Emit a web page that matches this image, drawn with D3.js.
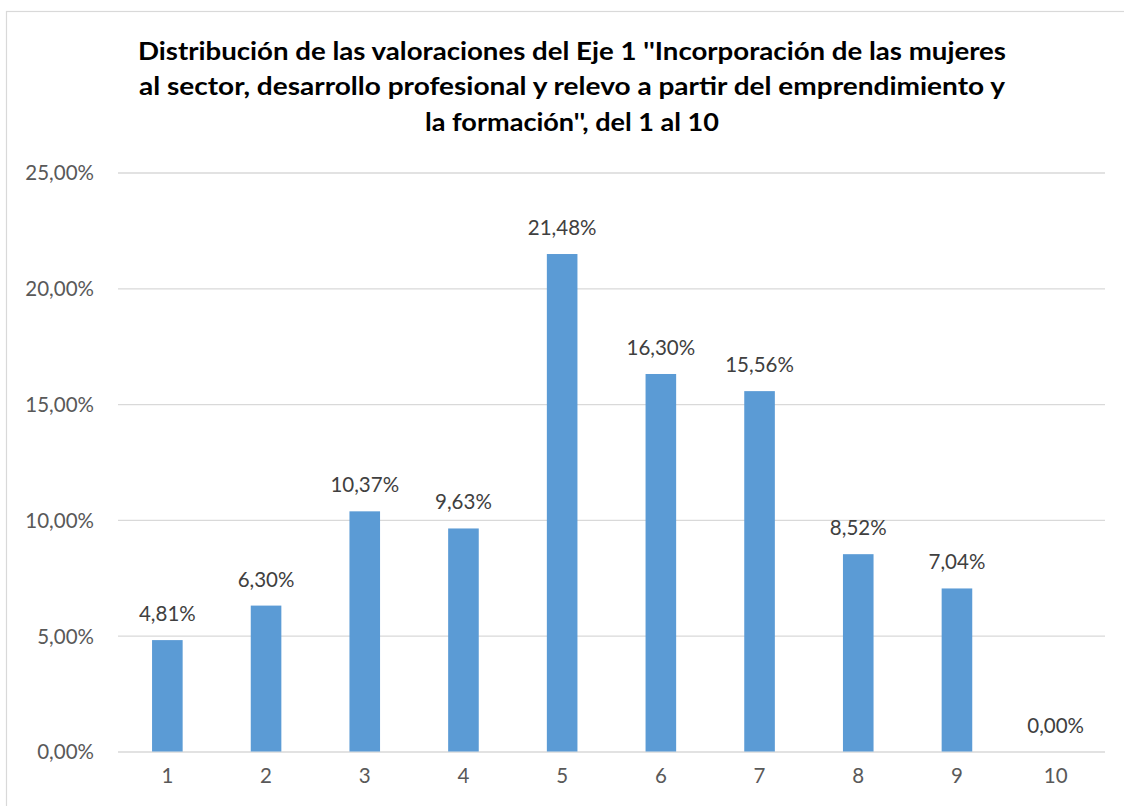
<!DOCTYPE html>
<html>
<head>
<meta charset="utf-8">
<script src="https://cdn.jsdelivr.net/npm/d3@7"></script>
<style>
html,body{margin:0;padding:0;background:#fff;}
svg{display:block;}
</style>
</head>
<body>
<svg id="chart" width="1124" height="806"></svg>
<script>
const categories = ["1","2","3","4","5","6","7","8","9","10"];
const values = [4.81, 6.30, 10.37, 9.63, 21.48, 16.30, 15.56, 8.52, 7.04, 0.00];
const yTicks = [0, 5, 10, 15, 20, 25];
const titleLines = [
  "Distribución de las valoraciones del Eje 1 ''Incorporación de las mujeres",
  "al sector, desarrollo profesional y relevo a partir del emprendimiento y",
  "la formación'', del 1 al 10"
];

const svg = d3.select("#chart");
const W = 1124, H = 806;
const font = "Lato, 'Open Sans', sans-serif";
const fmt = v => v.toFixed(2).replace(".", ",") + "%";

svg.append("rect").attr("width", W).attr("height", H).attr("fill", "#fff");
svg.append("rect").attr("x", 6.5).attr("y", 11.5).attr("width", 1140).attr("height", 820)
  .attr("fill", "none").attr("stroke", "#D9D9D9").attr("stroke-width", 1.2);

const plot = {left: 118, right: 1105, top: 172.5, bottom: 751.5};
const x = d3.scaleBand().domain(categories).range([plot.left, plot.right]).paddingInner(0.69).paddingOuter(0.345);
const y = d3.scaleLinear().domain([0, 25]).range([plot.bottom, plot.top]);

// title
const titleWidths = [868, 866, 294];
const titleY = [60, 95, 131];
svg.append("g").selectAll("text").data(titleLines).join("text")
  .attr("x", 572).attr("y", (d, i) => titleY[i])
  .attr("text-anchor", "middle")
  .attr("font-family", font).attr("font-weight", "bold").attr("font-size", 24.5)
  .attr("fill", "#000")
  .attr("textLength", (d, i) => titleWidths[i]).attr("lengthAdjust", "spacingAndGlyphs")
  .text(d => d);

// gridlines
const yAxis = d3.axisLeft(y).tickValues(yTicks).tickSize(-(plot.right - plot.left)).tickPadding(24).tickFormat(fmt);
const gy = svg.append("g").attr("transform", `translate(${plot.left},0)`).call(yAxis);
gy.select(".domain").remove();
gy.selectAll(".tick line").attr("stroke", "#D9D9D9").attr("stroke-width", 1.3);
gy.selectAll(".tick text").attr("font-family", font).attr("font-size", 20.5).attr("fill", "#595959").attr("dy", "0.36em");

// bars
svg.append("g").selectAll("rect").data(values).join("rect")
  .attr("x", (d, i) => x(categories[i]))
  .attr("width", x.bandwidth())
  .attr("y", d => y(d))
  .attr("height", d => y(0) - y(d))
  .attr("fill", "#5B9BD5");

// x axis
const xAxis = d3.axisBottom(x).tickSize(0).tickPadding(24);
const gx = svg.append("g").attr("transform", `translate(0,${plot.bottom})`).call(xAxis);
gx.select(".domain").remove();
gx.selectAll(".tick text").attr("font-family", font).attr("font-size", 20.5).attr("fill", "#595959").attr("dy", "0.36em");

// data labels
svg.append("g").selectAll("text").data(values).join("text")
  .attr("x", (d, i) => x(categories[i]) + x.bandwidth() / 2)
  .attr("y", d => y(d) - 19)
  .attr("text-anchor", "middle")
  .attr("font-family", font).attr("font-size", 20.5).attr("fill", "#404040")
  .text(d => fmt(d));
</script>
</body>
</html>
